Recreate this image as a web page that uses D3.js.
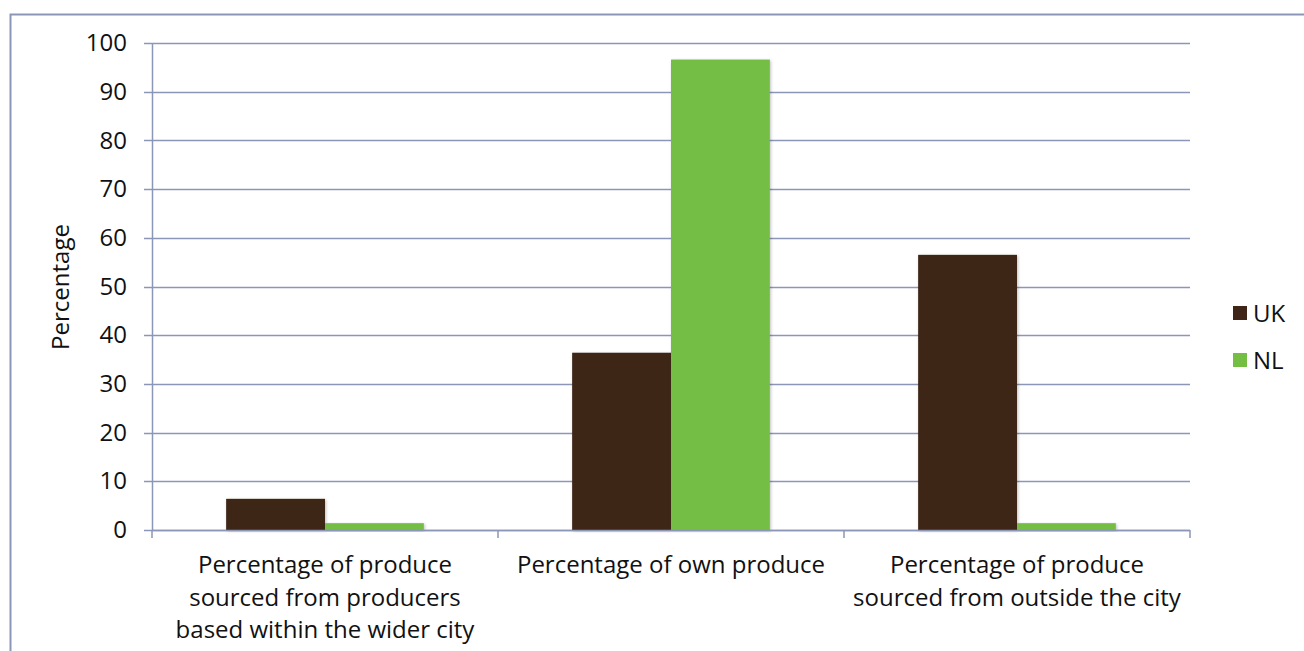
<!DOCTYPE html>
<html><head><meta charset="utf-8">
<script src="https://cdn.jsdelivr.net/npm/d3@7"></script>
<style>body{margin:0;background:#fff}svg{display:block}text{font-family:"Open Sans","Noto Sans",sans-serif;fill:#111}</style>
</head><body><svg id="c" width="1304" height="651"></svg>
<script>
const categories = [
  ["Percentage of produce","sourced from producers","based within the wider city"],
  ["Percentage of own produce"],
  ["Percentage of produce","sourced from outside the city"]
];
const seriesNames = ["UK","NL"];
const ukValues = [6.4, 36.4, 56.5];
const nlValues = [1.4, 96.6, 1.4];
const yTicks = [0,10,20,30,40,50,60,70,80,90,100];
const colors = ["#3E2518","#74BE44"];

const svg = d3.select("#c");
const grid = "#8C97B7";
const m = {l:152, r:1190, t:43, b:530};
const catIdx = categories.map((c,i)=>i);
const x = d3.scaleBand().domain(catIdx).range([m.l,m.r]).paddingInner(0).paddingOuter(0);
const y = d3.scaleLinear().domain([0,100]).range([m.b,m.t]);
const bw = x.bandwidth()/3.5;

const defs = svg.append("defs");
const f = defs.append("filter").attr("id","sh").attr("x","-10%").attr("y","-10%").attr("width","130%").attr("height","130%");
f.append("feDropShadow").attr("dx",1).attr("dy",1).attr("stdDeviation",1.5).attr("flood-color","#000").attr("flood-opacity",0.25);

// outer border
svg.append("path").attr("d","M10.5,660 L10.5,14.5 L1310,14.5").attr("fill","none").attr("stroke",grid).attr("stroke-width",2);

// gridlines
svg.append("g").selectAll("line").data(yTicks).join("line")
  .attr("x1",m.l-8).attr("x2",m.r).attr("y1",d=>Math.round(y(d))+0.5).attr("y2",d=>Math.round(y(d))+0.5)
  .attr("stroke",grid).attr("stroke-width",1.5);

// y axis
const ya = svg.append("g").attr("transform",`translate(${m.l},0)`)
  .call(d3.axisLeft(y).tickValues(yTicks).tickSize(0).tickPadding(25));
ya.select(".domain").attr("stroke",grid).attr("stroke-width",1.5);
ya.selectAll("text").style("font-size","24px").style("font-family",'"Open Sans","Noto Sans",sans-serif').attr("fill","#111");

// x axis ticks at boundaries
const bounds = catIdx.map(i=>x(i)).concat([m.r]);
svg.append("g").selectAll("line").data(bounds).join("line")
  .attr("x1",d=>d).attr("x2",d=>d).attr("y1",m.b).attr("y2",m.b+8).attr("stroke",grid).attr("stroke-width",1.5);

// bars
const data = [];
catIdx.forEach(i=>{ data.push({c:i,s:0,v:ukValues[i]}); data.push({c:i,s:1,v:nlValues[i]}); });
svg.append("g").selectAll("rect").data(data).join("rect")
  .attr("x",d=>x(d.c)+bw*0.75+d.s*bw).attr("width",bw)
  .attr("y",d=>y(d.v)).attr("height",d=>y(0)-y(d.v))
  .attr("fill",d=>colors[d.s]).attr("filter","url(#sh)");

// x axis line on top
svg.append("line").attr("x1",m.l).attr("x2",m.r).attr("y1",m.b+0.5).attr("y2",m.b+0.5).attr("stroke",grid).attr("stroke-width",1.5);

// category labels
const cl = svg.append("g");
categories.forEach((lines,i)=>{
  const t = cl.append("text").attr("x",x(i)+x.bandwidth()/2).attr("y",573)
    .attr("text-anchor","middle").style("font-size","24px");
  lines.forEach((ln,j)=>t.append("tspan").attr("x",x(i)+x.bandwidth()/2).attr("dy",j?32.5:0).text(ln));
});

// y title
svg.append("text").attr("transform","translate(69,287) rotate(-90)").attr("text-anchor","middle")
  .style("font-size","24px").text("Percentage");

// legend
const lg = svg.append("g").selectAll("g").data(seriesNames).join("g")
  .attr("transform",(d,i)=>`translate(1233,${306+i*47})`);
lg.append("rect").attr("width",14).attr("height",14).attr("fill",(d,i)=>colors[i]);
lg.append("text").attr("x",20).attr("y",16).style("font-size","24px").text(d=>d);
</script></body></html>
